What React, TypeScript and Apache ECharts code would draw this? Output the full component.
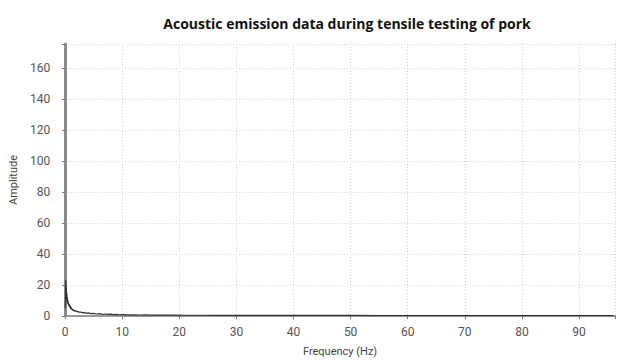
import React, { useEffect, useRef } from "react";
import * as echarts from "echarts";

const TITLE = "Acoustic emission data during tensile testing of pork";
const X_NAME = "Frequency (Hz)";
const Y_NAME = "Amplitude";

const frequency = [
  0.05, 0.1, 0.15, 0.2, 0.25, 0.3, 0.35, 0.4, 0.45, 0.5, 0.6, 0.7, 0.8, 0.9, 1.0,
  1.1, 1.2, 1.3, 1.4, 1.5, 1.7, 1.9, 2.1, 2.3, 2.5, 2.8, 3.1, 3.4, 3.7, 4.0,
  4.5, 5.0, 5.5, 6.0, 6.5, 7.0, 7.5, 8.0, 8.5, 9.0, 9.5, 10, 11, 12, 13, 14,
  15, 17, 19, 21, 24, 27, 30, 35, 40, 45, 50, 55, 60, 65, 70, 75, 80, 85, 90, 96,
];
const amplitude = [
  5, 23, 14, 19, 11, 15, 9, 12, 8, 10, 6.5, 8, 5.5, 6.5, 4.5,
  5.5, 4, 4.6, 3.4, 4, 3, 3.5, 2.6, 3, 2.3, 2.6, 2, 2.3, 1.7, 2,
  1.5, 1.7, 1.3, 1.5, 1.1, 1.3, 1.0, 1.15, 0.9, 1.0, 0.8, 0.9, 0.75, 0.8, 0.65, 0.7,
  0.6, 0.6, 0.55, 0.5, 0.5, 0.45, 0.45, 0.4, 0.4, 0.35, 0.35, 0.3, 0.3, 0.3, 0.3, 0.3, 0.25, 0.25, 0.25, 0.25,
];

export default function App() {
  const ref = useRef<HTMLDivElement>(null);
  useEffect(() => {
    if (!ref.current) return;
    const chart = echarts.init(ref.current, null, { renderer: "svg" });
    const font = "Roboto";
    chart.setOption({
      animation: false,
      title: {
        text: TITLE,
        left: 342,
        textAlign: "center",
        top: 11,
        textStyle: { fontFamily: "Open Sans", fontWeight: "bold", fontSize: 14, color: "#111" },
      },
      grid: { left: 64, right: 1, top: 44, bottom: 45 },
      xAxis: {
        type: "value",
        min: 0,
        max: 96.3,
        interval: 10,
        name: X_NAME,
        nameLocation: "middle",
        nameGap: 30,
        nameTextStyle: { fontFamily: font, fontSize: 11, color: "#444" },
        axisLine: { lineStyle: { color: "#999", width: 2 } },
        axisTick: { show: true, length: 3, lineStyle: { color: "#777" } },
        axisLabel: {
          fontFamily: font,
          fontSize: 12,
          color: "#555",
          margin: 10,
          formatter: (v: number) => (v % 10 === 0 && v <= 90 ? String(v) : ""),
        },
        splitLine: { show: true, lineStyle: { color: "#cfcfcf", type: [1, 2], width: 1 } },
      },
      yAxis: {
        type: "value",
        min: 0,
        max: 175.5,
        interval: 20,
        name: Y_NAME,
        nameLocation: "middle",
        nameGap: 44,
        nameTextStyle: { fontFamily: font, fontSize: 11, color: "#444" },
        axisLine: { show: true, lineStyle: { color: "#8a8a8a", width: 3 } },
        axisTick: { show: true, length: 3, lineStyle: { color: "#777" } },
        axisLabel: {
          fontFamily: font,
          fontSize: 12,
          color: "#555",
          margin: 15,
          formatter: (v: number) => (v % 20 === 0 && v <= 160 ? String(v) : ""),
        },
        splitLine: { show: true, lineStyle: { color: "#cfcfcf", type: [1, 2], width: 1 } },
      },
      series: [
        {
          type: "line",
          data: frequency.map((f, i) => [f, amplitude[i]]),
          showSymbol: false,
          lineStyle: { color: "#333", width: 1.2 },
        },
      ],
    });
    return () => chart.dispose();
  }, []);
  return <div ref={ref} style={{ width: 618, height: 362, position: "absolute", left: 0, top: 0 }} />;
}
